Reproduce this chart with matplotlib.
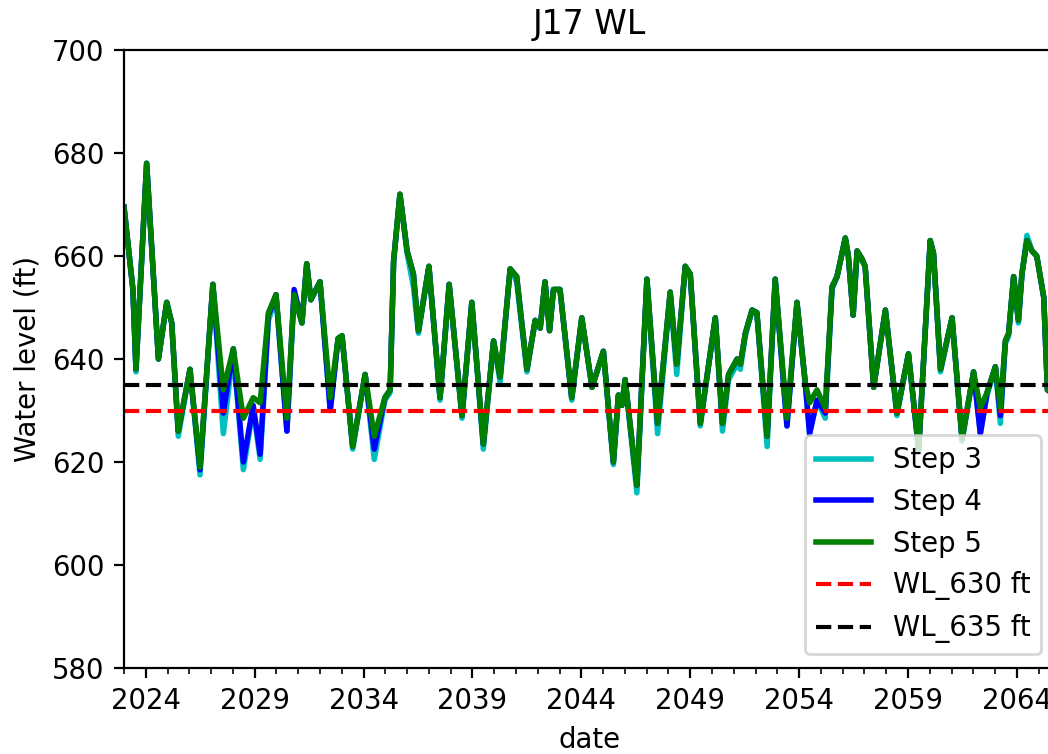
import matplotlib
matplotlib.use("Agg")
import matplotlib.pyplot as plt
import matplotlib.dates as mdates
from datetime import datetime, timedelta

# Simulated water level at J17 (ft), sampled at turning points, time in decimal years
years = [
    2023.00, 2023.41, 2023.55, 2024.04, 2024.58, 2024.96, 2025.19, 2025.49, 2026.03, 2026.49,
    2027.08, 2027.56, 2028.02, 2028.48, 2028.93, 2029.25, 2029.63, 2029.98, 2030.48, 2030.81,
    2031.17, 2031.39, 2031.58, 2032.00, 2032.47, 2032.83, 2033.01, 2033.50, 2034.07, 2034.49,
    2034.98, 2035.22, 2035.38, 2035.67, 2036.00, 2036.29, 2036.52, 2037.00, 2037.51, 2037.93,
    2038.52, 2038.97, 2039.50, 2039.97, 2040.27, 2040.73, 2041.03, 2041.50, 2041.88, 2042.11,
    2042.33, 2042.54, 2042.72, 2043.02, 2043.56, 2044.02, 2044.49, 2045.01, 2045.47, 2045.70,
    2045.86, 2046.01, 2046.55, 2047.01, 2047.50, 2048.08, 2048.38, 2048.77, 2049.00, 2049.46,
    2050.15, 2050.48, 2050.76, 2051.15, 2051.30, 2051.53, 2051.84, 2052.06, 2052.53, 2052.90,
    2053.44, 2053.90, 2054.28, 2054.48, 2054.82, 2055.20, 2055.51, 2055.74, 2056.12, 2056.26,
    2056.48, 2056.66, 2056.88, 2057.03, 2057.42, 2057.96, 2058.49, 2059.02, 2059.49, 2060.02,
    2060.17, 2060.49, 2061.02, 2061.48, 2062.01, 2062.32, 2062.63, 2063.01, 2063.24, 2063.47,
    2063.62, 2063.85, 2064.07, 2064.23, 2064.46, 2064.69, 2064.91, 2065.23, 2065.40, 2065.75,
]

step5 = [
    669.5, 653.5, 638.0, 678.0, 640.0, 651.0, 647.0, 626.0, 638.0, 619.0,
    654.5, 634.0, 642.0, 628.5, 632.5, 631.5, 649.0, 652.5, 628.5, 652.5,
    647.0, 658.5, 651.5, 655.0, 632.5, 644.0, 644.5, 623.0, 637.0, 625.0,
    632.5, 634.0, 659.0, 672.0, 661.0, 656.5, 645.5, 658.0, 632.5, 654.5,
    629.0, 651.0, 623.5, 643.5, 636.5, 657.5, 656.0, 638.0, 647.5, 646.0,
    655.0, 645.5, 653.5, 653.5, 632.5, 648.0, 634.5, 641.5, 620.0, 633.0,
    631.0, 636.0, 615.5, 655.5, 627.5, 653.0, 639.0, 658.0, 656.5, 627.5,
    648.0, 627.5, 637.0, 640.0, 639.0, 645.0, 649.5, 649.0, 625.0, 655.5,
    628.5, 651.0, 635.5, 631.5, 634.0, 630.5, 654.0, 656.0, 663.5, 660.0,
    648.5, 661.0, 659.5, 658.0, 634.5, 649.5, 629.5, 641.0, 622.5, 663.0,
    660.5, 638.0, 648.0, 624.5, 637.5, 630.5, 633.5, 638.5, 630.5, 643.5,
    645.0, 656.0, 647.5, 656.5, 663.0, 661.0, 660.0, 652.0, 634.0, 633.0,
]

step4 = [
    669.5, 653.5, 638.0, 678.0, 640.0, 651.0, 647.0, 626.0, 638.0, 618.5,
    654.5, 629.5, 642.0, 620.0, 631.0, 621.5, 648.5, 652.5, 626.0, 653.5,
    647.0, 658.5, 651.5, 655.0, 630.0, 644.0, 644.5, 623.0, 637.0, 622.5,
    632.5, 634.0, 659.0, 672.0, 661.0, 656.5, 645.5, 658.0, 632.5, 654.5,
    629.0, 651.0, 623.5, 643.5, 636.5, 657.5, 656.0, 638.0, 647.5, 646.0,
    655.0, 645.5, 653.5, 653.5, 632.5, 648.0, 634.5, 641.5, 620.0, 633.0,
    631.0, 636.0, 615.5, 655.5, 627.5, 653.0, 639.0, 658.0, 656.5, 627.5,
    648.0, 627.5, 637.0, 640.0, 639.0, 645.0, 649.5, 649.0, 625.0, 655.5,
    627.0, 651.0, 635.5, 625.5, 632.0, 629.5, 654.0, 656.0, 663.5, 660.0,
    648.5, 661.0, 659.5, 658.0, 634.5, 649.5, 629.5, 641.0, 622.5, 663.0,
    660.5, 638.0, 648.0, 624.5, 637.5, 625.5, 633.5, 638.5, 629.0, 643.5,
    645.0, 656.0, 647.5, 656.5, 663.0, 661.0, 660.0, 652.0, 634.0, 633.0,
]

step3 = [
    669.5, 653.5, 637.5, 678.0, 640.0, 651.0, 647.0, 625.0, 638.0, 617.5,
    654.5, 625.5, 641.5, 618.5, 630.5, 620.5, 647.5, 652.0, 626.0, 652.0,
    647.0, 658.5, 651.5, 655.0, 630.0, 644.0, 644.5, 622.5, 637.0, 620.5,
    632.0, 633.5, 659.0, 672.0, 660.5, 654.0, 645.0, 658.0, 632.0, 654.5,
    628.5, 651.0, 622.5, 643.5, 635.5, 657.5, 655.0, 637.5, 647.5, 646.0,
    655.0, 645.5, 653.5, 653.5, 632.0, 648.0, 634.5, 641.5, 619.5, 633.0,
    631.0, 636.0, 614.0, 655.5, 625.5, 652.5, 637.0, 658.0, 656.0, 627.0,
    648.0, 626.0, 636.0, 639.0, 638.0, 644.5, 649.5, 649.0, 623.0, 655.5,
    627.0, 651.0, 635.0, 625.5, 632.0, 628.5, 653.5, 656.0, 663.5, 660.0,
    648.5, 660.5, 659.0, 658.0, 634.5, 649.5, 629.0, 641.0, 622.0, 663.0,
    660.5, 637.5, 648.0, 624.0, 637.5, 625.5, 633.0, 638.5, 627.5, 643.0,
    644.5, 656.0, 647.0, 656.5, 664.0, 661.0, 660.0, 652.0, 634.0, 633.0,
]

wl_low = 630
wl_high = 635


def to_date(y):
    y0 = int(y)
    start = datetime(y0, 1, 1)
    length = (datetime(y0 + 1, 1, 1) - start).days
    return start + timedelta(days=(y - y0) * length)


dates = [to_date(y) for y in years]

DPI = 198
W, H = 1048, 754
fig = plt.figure(figsize=(W / DPI, H / DPI), dpi=DPI)
ax = fig.add_axes([124 / W, 86 / H, 931 / W, 618 / H])

ax.plot(dates, step3, color="c", lw=2, label="Step 3")
ax.plot(dates, step4, color="b", lw=2, label="Step 4")
ax.plot(dates, step5, color="g", lw=2, label="Step 5")
ax.axhline(wl_low, color="r", ls="--", label="WL_630 ft")
ax.axhline(wl_high, color="k", ls="--", label="WL_635 ft")

ax.set_xlim(datetime(2023, 1, 1), datetime(2065, 10, 1))
ax.set_ylim(580, 700)
ax.set_xticks([datetime(y, 1, 1) for y in range(2024, 2065, 5)])
ax.xaxis.set_major_formatter(mdates.DateFormatter("%Y"))
ax.xaxis.set_minor_locator(mdates.YearLocator(1))

ax.set_title("J17 WL")
ax.set_xlabel("date")
ax.set_ylabel("Water level (ft)")
ax.legend(loc="lower right")

fig.savefig("out.png", dpi=DPI)
